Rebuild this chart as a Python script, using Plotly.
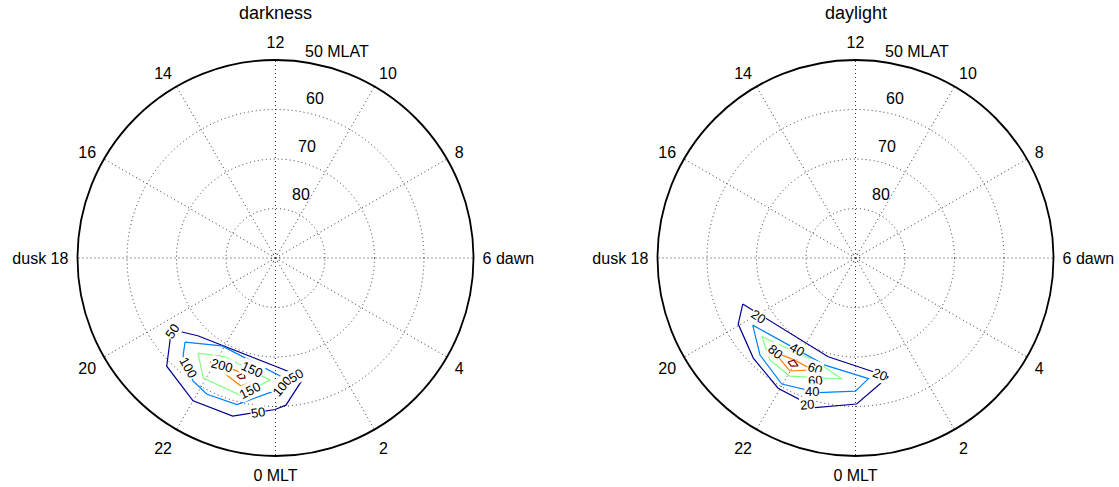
import math
import plotly.graph_objects as go

# ---------------- data ----------------
MLT_TICKS = [0, 2, 4, 6, 8, 10, 12, 14, 16, 18, 20, 22]
MLT_LABELS = ["0 MLT", "2", "4", "6 dawn", "8", "10", "12", "14", "16", "dusk 18", "20", "22"]
RING_LATS = [80, 70, 60, 50]
RING_LABELS = ["80", "70", "60", "50 MLAT"]
LEVEL_COLORS = ["#00008F", "#0080FF", "#80FF80", "#FF8000", "#800000"]

titles = ["darkness", "daylight"]

# darkness contours (MLT hours, MLAT degrees)
dark_levels = [50, 100, 150, 200, 250]
dark_mlt = [
    [20.3, 21.0, 0.89, 0.27, 23.99, 22.99, 22.0, 20.99],
    [20.86, 21.91, 0.27, 0.03, 23.02, 22.22, 21.74, 21.11],
    [21.39, 22.2, 23.83, 23.03, 21.93],
    [21.85, 22.67, 23.45, 22.99],
    [22.79, 22.98, 23.05, 22.91],
]
dark_lat = [
    [64.5, 67.8, 65.2, 60.2, 59.4, 56.9, 56.7, 59.0],
    [65.05, 69.2, 65.7, 63.3, 59.4, 59.2, 60.1, 62.8],
    [65.2, 67.6, 65.3, 61.4, 61.7],
    [65.2, 65.9, 65.3, 63.2],
    [64.9, 65.9, 65.0, 64.6],
]
dark_lab_text = ["50", "100", "200", "150", "150", "100", "50", "50"]
dark_lab_mlt = [20.35, 21.43, 22.24, 23.21, 23.27, 0.19, 0.67, 23.57]
dark_lab_lat = [64.4, 61.6, 65.7, 66.9, 62.8, 64.1, 65.8, 58.5]
dark_lab_ang = [-55, 60, 15, 25, -27, -50, -30, -9]

# daylight contours
day_levels = [20, 40, 60, 80, 100]
day_mlt = [
    [19.48, 22.97, 1.03, 0.03, 22.99, 21.95, 20.96, 19.96],
    [20.21, 22.94, 0.41, 0.0, 22.97, 21.98, 21.03],
    [20.67, 22.65, 23.57, 22.06, 21.33],
    [21.27, 21.95, 22.61, 21.99],
    [21.8, 21.93, 22.13, 21.95],
]
day_lat = [
    [65.4, 69.3, 65.1, 60.5, 58.7, 59.4, 61.1, 62.8],
    [65.2, 67.5, 65.5, 63.1, 61.8, 60.5, 62.5],
    [65.3, 67.6, 65.4, 62.7, 63.1],
    [64.9, 66.0, 65.8, 63.6],
    [64.95, 65.9, 65.3, 64.6],
]
day_lab_text = ["20", "40", "80", "60", "60", "40", "20", "20"]
day_lab_mlt = [20.08, 21.82, 21.29, 22.65, 22.77, 22.78, 22.79, 0.79]
day_lab_lat = [67.0, 68.1, 65.0, 66.3, 64.0, 61.7, 58.8, 66.0]
day_lab_ang = [32, 29, 40, 20, -5, 0, -5, 20]

# ---------------- layout helpers ----------------
W, H = 1119, 487
R_PX = 198
centers = [(275.5, 258), (855.5, 258)]
FONT = "Liberation Sans, Arial, sans-serif"
GRID_DASH = "1px,3px"
GRID_COLOR = "#333"


def dom(cx, cy):
    return ([(cx - R_PX) / W, (cx + R_PX) / W],
            [(H - cy - R_PX) / H, (H - cy + R_PX) / H])


def to_xy(mlt, lat):
    c = 90 - lat
    a = math.radians((mlt - 6) * 15)
    return c * math.cos(a), c * math.sin(a)


fig = go.Figure()

panels = [
    (dark_mlt, dark_lat, dark_lab_text, dark_lab_mlt, dark_lab_lat, dark_lab_ang),
    (day_mlt, day_lat, day_lab_text, day_lab_mlt, day_lab_lat, day_lab_ang),
]

annotations = []
for i, (mlts, lats, ltxt, lmlt, llat, lang) in enumerate(panels):
    pid = "polar" if i == 0 else "polar2"
    xa = "x" if i == 0 else "x2"
    ya = "y" if i == 0 else "y2"
    for k, (m, l) in enumerate(zip(mlts, lats)):
        mm = m + [m[0]]
        ll = l + [l[0]]
        fig.add_trace(go.Scatterpolar(
            r=[90 - v for v in ll], theta=[v * 15 for v in mm],
            mode="lines", line=dict(color=LEVEL_COLORS[k], width=1.2),
            subplot=pid, showlegend=False, hoverinfo="skip"))
    # radial ring labels (inside the plotted range)
    fig.add_trace(go.Scatterpolar(
        r=[13.5, 23.1, 32.9], theta=[157.6, 164, 166],
        text=RING_LABELS[:3], mode="text", textposition="middle center",
        textfont=dict(family=FONT, size=16, color="black"),
        subplot=pid, showlegend=False, hoverinfo="skip", cliponaxis=False))
    # outer ring label sits outside the circle
    cx, cy = centers[i]
    annotations.append(dict(
        x=(cx + 61) / W, y=1 - 51 / H, xref="paper", yref="paper",
        text=RING_LABELS[3], showarrow=False, xanchor="center", yanchor="middle",
        font=dict(family=FONT, size=16, color="black")))
    for t, m, l, a in zip(ltxt, lmlt, llat, lang):
        x, y = to_xy(m, l)
        annotations.append(dict(
            x=x, y=y, xref=xa, yref=ya, text=t, showarrow=False,
            textangle=a, bgcolor="white", borderpad=0,
            font=dict(family=FONT, size=13, color="black")))

for i, t in enumerate(titles):
    cx, cy = centers[i]
    annotations.append(dict(
        x=cx / W, y=1 - 13 / H, xref="paper", yref="paper", text=t,
        showarrow=False, xanchor="center", yanchor="middle",
        font=dict(family=FONT, size=18, color="black")))

polar_common = dict(
    bgcolor="white",
    radialaxis=dict(range=[0, 40], tickvals=[0.8, 10, 20, 30], showticklabels=False,
                    ticks="", showline=False, gridcolor=GRID_COLOR, griddash=GRID_DASH,
                    gridwidth=1),
    angularaxis=dict(rotation=-90, direction="counterclockwise",
                     tickvals=[v * 15 for v in MLT_TICKS], ticktext=MLT_LABELS,
                     ticks="outside", ticklen=5, tickcolor="rgba(0,0,0,0)",
                     tickfont=dict(family=FONT, size=16, color="black"),
                     showline=True, linecolor="black", linewidth=1.8,
                     gridcolor=GRID_COLOR, griddash=GRID_DASH, gridwidth=1),
)

d0 = dom(*centers[0])
d1 = dom(*centers[1])
fig.update_layout(
    width=W, height=H, margin=dict(l=0, r=0, t=0, b=0),
    paper_bgcolor="white", plot_bgcolor="rgba(0,0,0,0)",
    polar=dict(domain=dict(x=d0[0], y=d0[1]), **polar_common),
    polar2=dict(domain=dict(x=d1[0], y=d1[1]), **polar_common),
    xaxis=dict(domain=d0[0], range=[-40, 40], visible=False, fixedrange=True),
    yaxis=dict(domain=d0[1], range=[-40, 40], visible=False, fixedrange=True),
    xaxis2=dict(domain=d1[0], range=[-40, 40], visible=False, fixedrange=True),
    yaxis2=dict(domain=d1[1], range=[-40, 40], visible=False, fixedrange=True),
    annotations=annotations,
    showlegend=False,
)
# invisible anchors so the cartesian overlay axes exist (used for label placement)
fig.add_trace(go.Scatter(x=[None], y=[None], xaxis="x", yaxis="y", showlegend=False))
fig.add_trace(go.Scatter(x=[None], y=[None], xaxis="x2", yaxis="y2", showlegend=False))

fig.write_html("out.html", config={"displayModeBar": False},
               post_script="document.body.style.margin='0';")
